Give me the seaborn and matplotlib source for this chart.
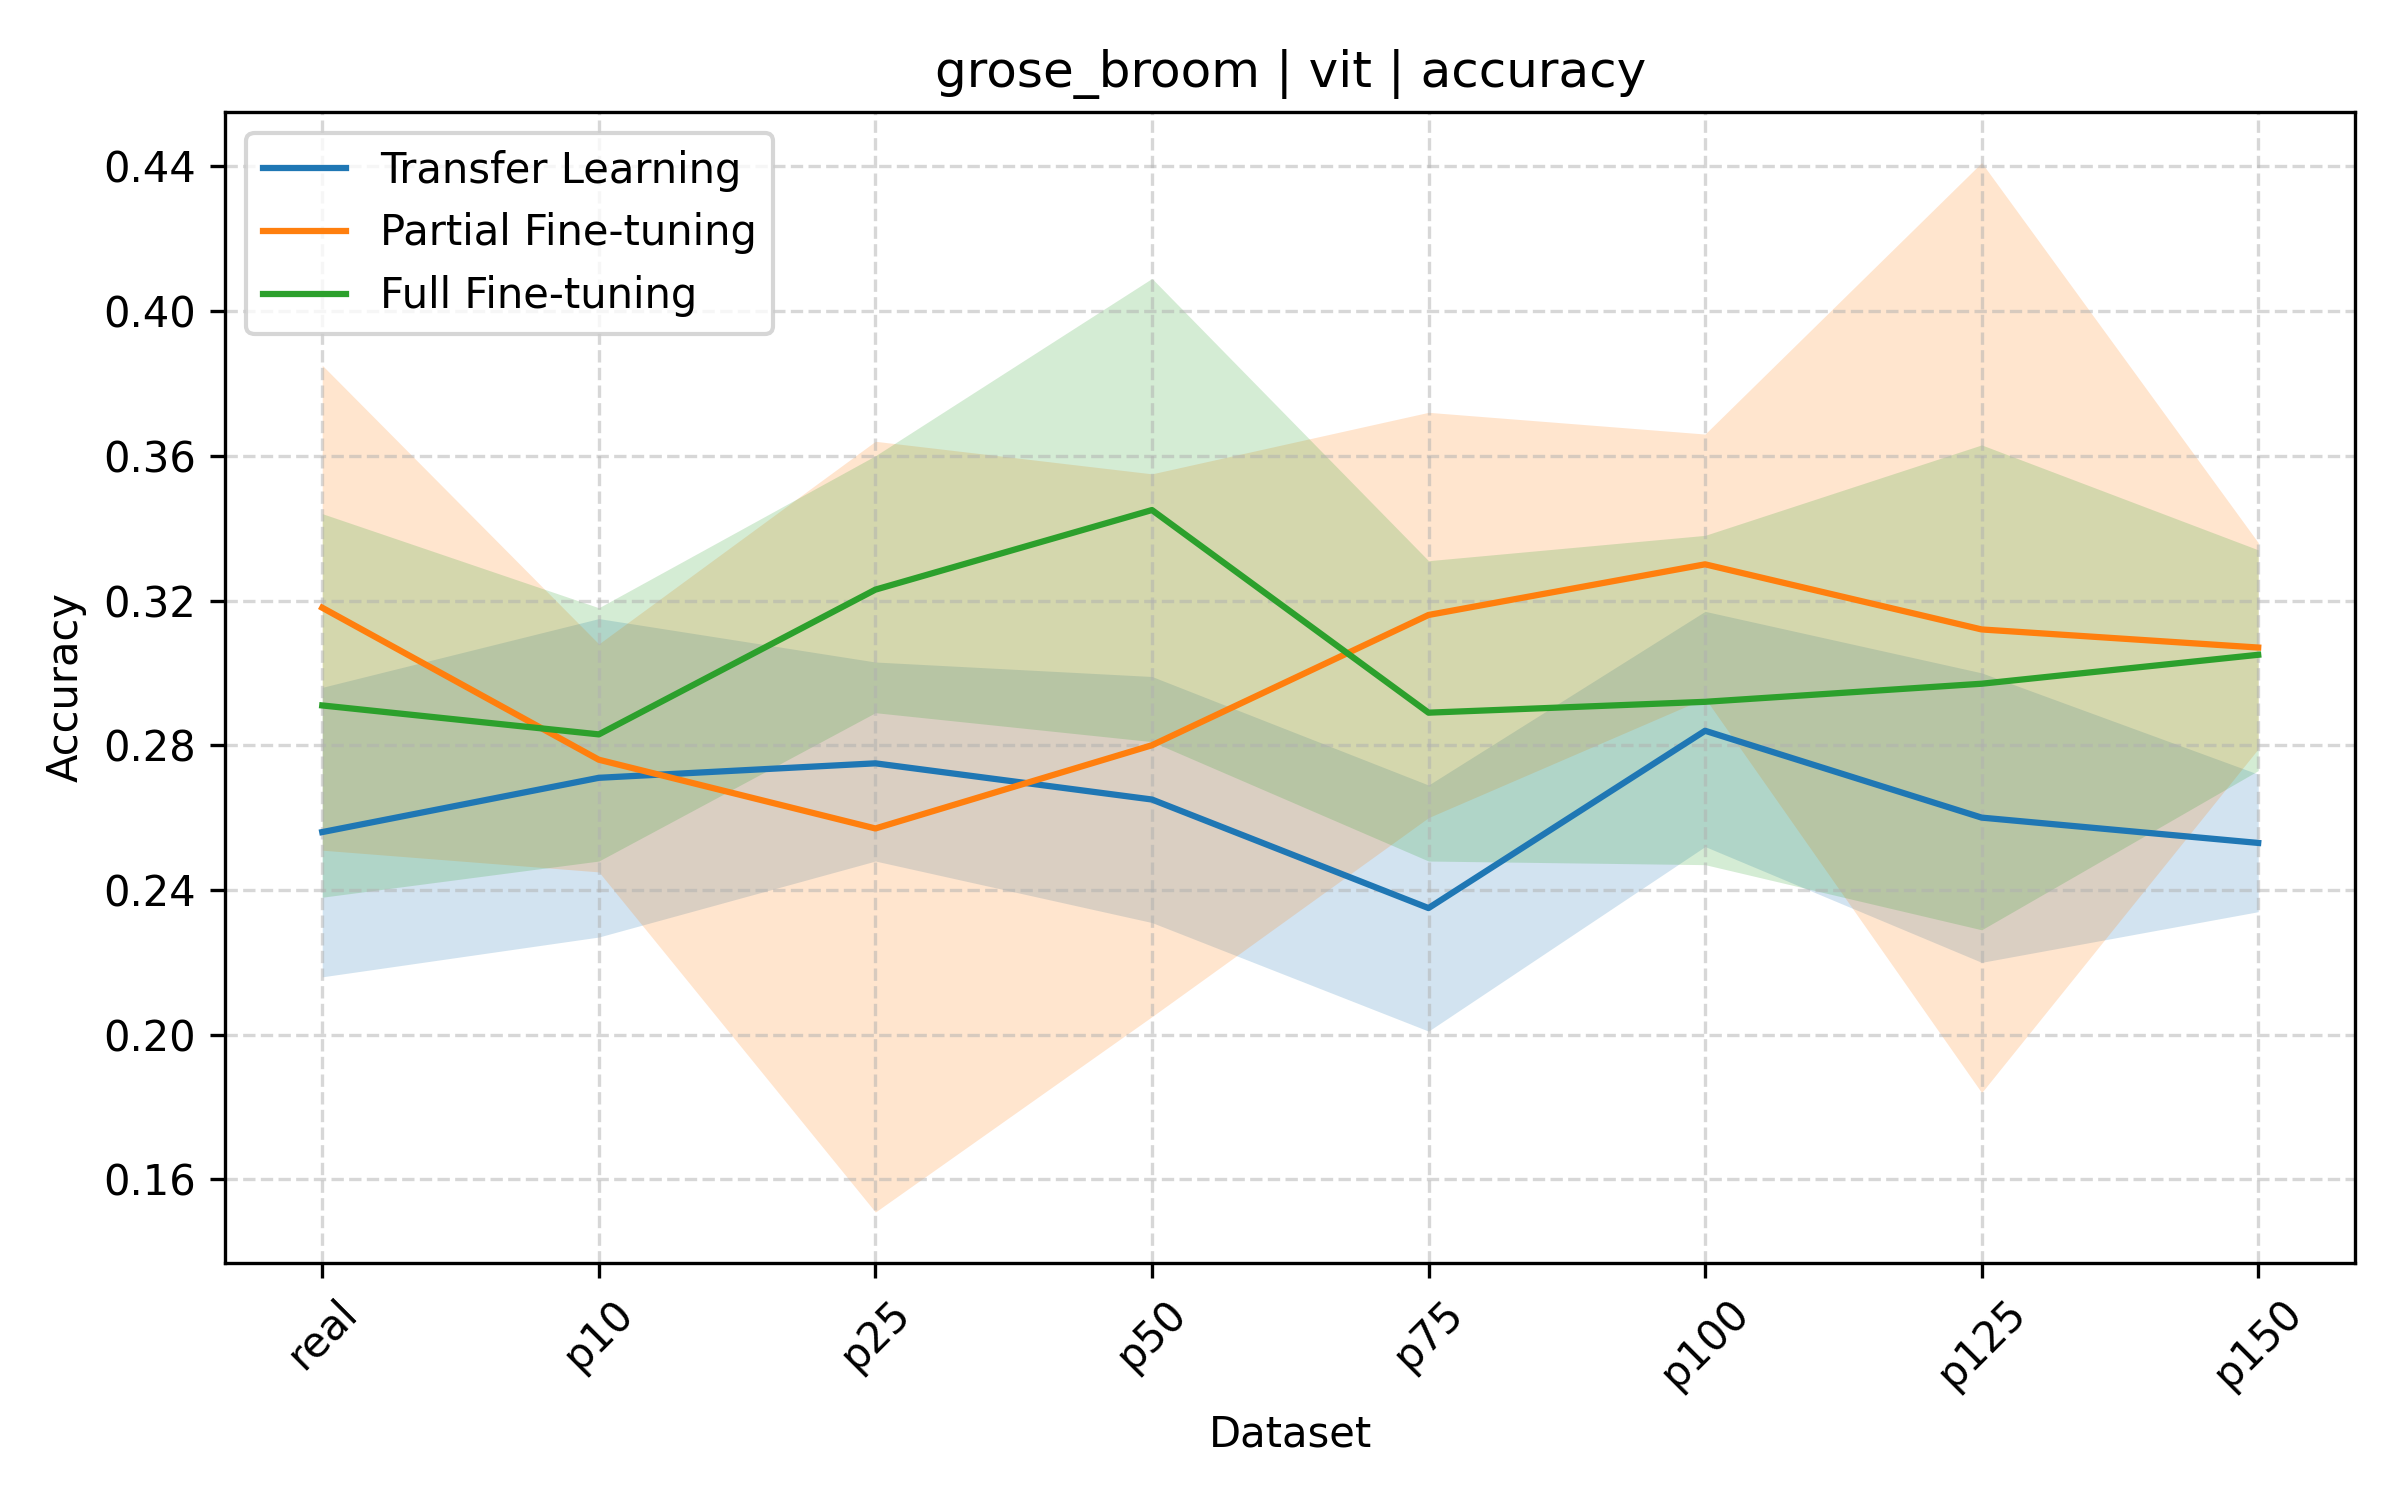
import matplotlib
matplotlib.use("Agg")
import matplotlib.pyplot as plt
import pandas as pd
import seaborn as sns

datasets = ["real", "p10", "p25", "p50", "p75", "p100", "p125", "p150"]

tl_mean = [0.256, 0.271, 0.275, 0.265, 0.235, 0.284, 0.260, 0.253]
tl_low = [0.216, 0.227, 0.248, 0.231, 0.201, 0.252, 0.220, 0.234]
tl_high = [0.296, 0.315, 0.303, 0.299, 0.269, 0.317, 0.300, 0.272]

pf_mean = [0.318, 0.276, 0.257, 0.280, 0.316, 0.330, 0.312, 0.307]
pf_low = [0.251, 0.245, 0.151, 0.205, 0.260, 0.293, 0.184, 0.279]
pf_high = [0.385, 0.308, 0.364, 0.355, 0.372, 0.366, 0.441, 0.336]

ff_mean = [0.291, 0.283, 0.323, 0.345, 0.289, 0.292, 0.297, 0.305]
ff_low = [0.238, 0.248, 0.289, 0.281, 0.248, 0.247, 0.229, 0.273]
ff_high = [0.344, 0.318, 0.360, 0.409, 0.331, 0.338, 0.363, 0.334]

series = [
    ("Transfer Learning", tl_mean, tl_low, tl_high, "#1f77b4"),
    ("Partial Fine-tuning", pf_mean, pf_low, pf_high, "#ff7f0e"),
    ("Full Fine-tuning", ff_mean, ff_low, ff_high, "#2ca02c"),
]

fig, ax = plt.subplots(figsize=(8, 5))
x = list(range(len(datasets)))
for name, mean, low, high, color in series:
    df = pd.DataFrame({"x": x, "acc": mean})
    sns.lineplot(data=df, x="x", y="acc", ax=ax, color=color, label=name)
    ax.fill_between(x, low, high, color=color, alpha=0.2, linewidth=0)

ax.set_xticks(x)
ax.set_xticklabels(datasets, rotation=45)
ax.set_yticks([0.16, 0.20, 0.24, 0.28, 0.32, 0.36, 0.40, 0.44])
ax.set_ylim(0.137, 0.455)
ax.set_xlim(-0.35, 7.35)
ax.set_title("grose_broom | vit | accuracy")
ax.set_xlabel("Dataset")
ax.set_ylabel("Accuracy")
ax.grid(True, linestyle="--", alpha=0.5)
ax.legend(loc="upper left")
plt.tight_layout()
plt.savefig("out.png", dpi=300)
